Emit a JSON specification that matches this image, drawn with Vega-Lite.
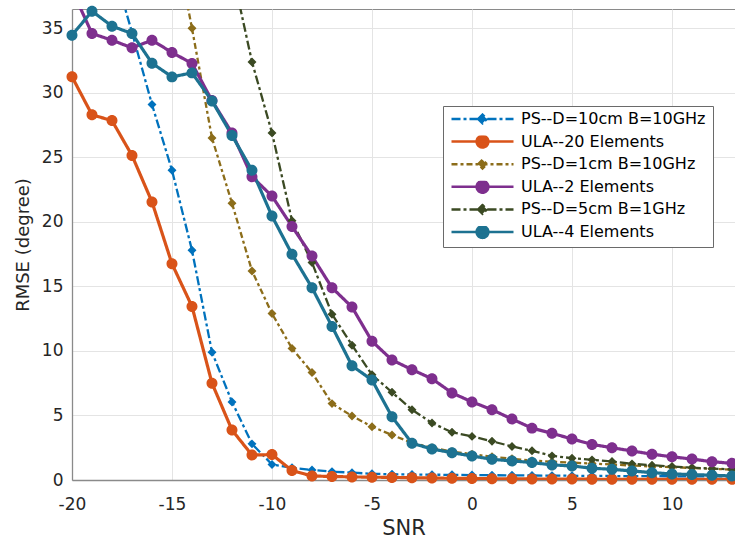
{
"$schema":"https://vega.github.io/schema/vega-lite/v6.json",
"width":663,"height":471,
"autosize":{"type":"none"},
"padding":{"left":72,"top":9,"right":0,"bottom":59},
"background":"white",
"config":{
 "view":{"stroke":"#8a8a8a","strokeWidth":1},
 "font":"DejaVu Sans",
 "axis":{"grid":true,"gridColor":"#e4e4e4","gridWidth":1,"domainColor":"#8a8a8a","domainWidth":1.3,"ticks":false,"labelFont":"DejaVu Sans","labelFontSize":17,"labelColor":"#262626","labelFlush":false,"titleFont":"DejaVu Sans","titleFontWeight":"normal","titleColor":"#262626","labelExpr":"datum.value < 0 ? '-' + abs(datum.value) : '' + datum.value"},
 "legend":{"symbolSize":3844,"clipHeight":12,"rowPadding":6.6,"padding":7,"labelOffset":6,"symbolOffset":0,"labelFont":"DejaVu Sans","labelFontSize":16,"labelColor":"#000000","labelLimit":400,"strokeColor":"#6a6a6a","fillColor":"#ffffff","strokeWidth":1,"symbolOpacity":1,"symbolStrokeWidth":2.5}
},
"data":{"values":[
{"s":"PS--D=10cm B=10GHz","x":-18,"y":40},{"s":"PS--D=10cm B=10GHz","x":-17,"y":34.7},{"s":"PS--D=10cm B=10GHz","x":-16,"y":29.1},{"s":"PS--D=10cm B=10GHz","x":-15,"y":24.0},{"s":"PS--D=10cm B=10GHz","x":-14,"y":17.8},{"s":"PS--D=10cm B=10GHz","x":-13,"y":9.9},{"s":"PS--D=10cm B=10GHz","x":-12,"y":6.05},{"s":"PS--D=10cm B=10GHz","x":-11,"y":2.8},{"s":"PS--D=10cm B=10GHz","x":-10,"y":1.2},{"s":"PS--D=10cm B=10GHz","x":-9,"y":0.95},{"s":"PS--D=10cm B=10GHz","x":-8,"y":0.78},{"s":"PS--D=10cm B=10GHz","x":-7,"y":0.65},{"s":"PS--D=10cm B=10GHz","x":-6,"y":0.57},{"s":"PS--D=10cm B=10GHz","x":-5,"y":0.48},{"s":"PS--D=10cm B=10GHz","x":-4,"y":0.45},{"s":"PS--D=10cm B=10GHz","x":-3,"y":0.43},{"s":"PS--D=10cm B=10GHz","x":-2,"y":0.41},{"s":"PS--D=10cm B=10GHz","x":-1,"y":0.4},{"s":"PS--D=10cm B=10GHz","x":0,"y":0.38},{"s":"PS--D=10cm B=10GHz","x":1,"y":0.37},{"s":"PS--D=10cm B=10GHz","x":2,"y":0.36},{"s":"PS--D=10cm B=10GHz","x":3,"y":0.35},{"s":"PS--D=10cm B=10GHz","x":4,"y":0.34},{"s":"PS--D=10cm B=10GHz","x":5,"y":0.33},{"s":"PS--D=10cm B=10GHz","x":6,"y":0.32},{"s":"PS--D=10cm B=10GHz","x":7,"y":0.31},{"s":"PS--D=10cm B=10GHz","x":8,"y":0.3},{"s":"PS--D=10cm B=10GHz","x":9,"y":0.3},{"s":"PS--D=10cm B=10GHz","x":10,"y":0.29},{"s":"PS--D=10cm B=10GHz","x":11,"y":0.28},{"s":"PS--D=10cm B=10GHz","x":12,"y":0.28},{"s":"PS--D=10cm B=10GHz","x":13,"y":0.27},{"s":"PS--D=10cm B=10GHz","x":14,"y":0.27},
{"s":"ULA--20 Elements","x":-20,"y":31.25},{"s":"ULA--20 Elements","x":-19,"y":28.3},{"s":"ULA--20 Elements","x":-18,"y":27.85},{"s":"ULA--20 Elements","x":-17,"y":25.15},{"s":"ULA--20 Elements","x":-16,"y":21.55},{"s":"ULA--20 Elements","x":-15,"y":16.75},{"s":"ULA--20 Elements","x":-14,"y":13.45},{"s":"ULA--20 Elements","x":-13,"y":7.5},{"s":"ULA--20 Elements","x":-12,"y":3.87},{"s":"ULA--20 Elements","x":-11,"y":1.93},{"s":"ULA--20 Elements","x":-10,"y":1.97},{"s":"ULA--20 Elements","x":-9,"y":0.73},{"s":"ULA--20 Elements","x":-8,"y":0.31},{"s":"ULA--20 Elements","x":-7,"y":0.27},{"s":"ULA--20 Elements","x":-6,"y":0.24},{"s":"ULA--20 Elements","x":-5,"y":0.22},{"s":"ULA--20 Elements","x":-4,"y":0.2},{"s":"ULA--20 Elements","x":-3,"y":0.18},{"s":"ULA--20 Elements","x":-2,"y":0.15},{"s":"ULA--20 Elements","x":-1,"y":0.13},{"s":"ULA--20 Elements","x":0,"y":0.12},{"s":"ULA--20 Elements","x":1,"y":0.1},{"s":"ULA--20 Elements","x":2,"y":0.09},{"s":"ULA--20 Elements","x":3,"y":0.08},{"s":"ULA--20 Elements","x":4,"y":0.07},{"s":"ULA--20 Elements","x":5,"y":0.07},{"s":"ULA--20 Elements","x":6,"y":0.06},{"s":"ULA--20 Elements","x":7,"y":0.06},{"s":"ULA--20 Elements","x":8,"y":0.06},{"s":"ULA--20 Elements","x":9,"y":0.05},{"s":"ULA--20 Elements","x":10,"y":0.05},{"s":"ULA--20 Elements","x":11,"y":0.05},{"s":"ULA--20 Elements","x":12,"y":0.05},{"s":"ULA--20 Elements","x":13,"y":0.05},{"s":"ULA--20 Elements","x":14,"y":0.05},
{"s":"PS--D=1cm B=10GHz","x":-15,"y":43},{"s":"PS--D=1cm B=10GHz","x":-14,"y":35.0},{"s":"PS--D=1cm B=10GHz","x":-13,"y":26.5},{"s":"PS--D=1cm B=10GHz","x":-12,"y":21.45},{"s":"PS--D=1cm B=10GHz","x":-11,"y":16.2},{"s":"PS--D=1cm B=10GHz","x":-10,"y":12.9},{"s":"PS--D=1cm B=10GHz","x":-9,"y":10.2},{"s":"PS--D=1cm B=10GHz","x":-8,"y":8.33},{"s":"PS--D=1cm B=10GHz","x":-7,"y":5.92},{"s":"PS--D=1cm B=10GHz","x":-6,"y":4.96},{"s":"PS--D=1cm B=10GHz","x":-5,"y":4.13},{"s":"PS--D=1cm B=10GHz","x":-4,"y":3.49},{"s":"PS--D=1cm B=10GHz","x":-3,"y":2.88},{"s":"PS--D=1cm B=10GHz","x":-2,"y":2.5},{"s":"PS--D=1cm B=10GHz","x":-1,"y":2.2},{"s":"PS--D=1cm B=10GHz","x":0,"y":2.0},{"s":"PS--D=1cm B=10GHz","x":1,"y":1.8},{"s":"PS--D=1cm B=10GHz","x":2,"y":1.65},{"s":"PS--D=1cm B=10GHz","x":3,"y":1.5},{"s":"PS--D=1cm B=10GHz","x":4,"y":1.42},{"s":"PS--D=1cm B=10GHz","x":5,"y":1.35},{"s":"PS--D=1cm B=10GHz","x":6,"y":1.27},{"s":"PS--D=1cm B=10GHz","x":7,"y":1.2},{"s":"PS--D=1cm B=10GHz","x":8,"y":1.12},{"s":"PS--D=1cm B=10GHz","x":9,"y":1.05},{"s":"PS--D=1cm B=10GHz","x":10,"y":1.0},{"s":"PS--D=1cm B=10GHz","x":11,"y":0.93},{"s":"PS--D=1cm B=10GHz","x":12,"y":0.87},{"s":"PS--D=1cm B=10GHz","x":13,"y":0.8},{"s":"PS--D=1cm B=10GHz","x":14,"y":0.76},
{"s":"ULA--2 Elements","x":-20,"y":38.0},{"s":"ULA--2 Elements","x":-19,"y":34.6},{"s":"ULA--2 Elements","x":-18,"y":34.08},{"s":"ULA--2 Elements","x":-17,"y":33.49},{"s":"ULA--2 Elements","x":-16,"y":34.08},{"s":"ULA--2 Elements","x":-15,"y":33.13},{"s":"ULA--2 Elements","x":-14,"y":32.28},{"s":"ULA--2 Elements","x":-13,"y":29.4},{"s":"ULA--2 Elements","x":-12,"y":26.9},{"s":"ULA--2 Elements","x":-11,"y":23.5},{"s":"ULA--2 Elements","x":-10,"y":22.0},{"s":"ULA--2 Elements","x":-9,"y":19.65},{"s":"ULA--2 Elements","x":-8,"y":17.35},{"s":"ULA--2 Elements","x":-7,"y":14.9},{"s":"ULA--2 Elements","x":-6,"y":13.4},{"s":"ULA--2 Elements","x":-5,"y":10.75},{"s":"ULA--2 Elements","x":-4,"y":9.3},{"s":"ULA--2 Elements","x":-3,"y":8.55},{"s":"ULA--2 Elements","x":-2,"y":7.85},{"s":"ULA--2 Elements","x":-1,"y":6.75},{"s":"ULA--2 Elements","x":0,"y":6.05},{"s":"ULA--2 Elements","x":1,"y":5.45},{"s":"ULA--2 Elements","x":2,"y":4.72},{"s":"ULA--2 Elements","x":3,"y":4.02},{"s":"ULA--2 Elements","x":4,"y":3.62},{"s":"ULA--2 Elements","x":5,"y":3.18},{"s":"ULA--2 Elements","x":6,"y":2.76},{"s":"ULA--2 Elements","x":7,"y":2.5},{"s":"ULA--2 Elements","x":8,"y":2.25},{"s":"ULA--2 Elements","x":9,"y":2.0},{"s":"ULA--2 Elements","x":10,"y":1.8},{"s":"ULA--2 Elements","x":11,"y":1.62},{"s":"ULA--2 Elements","x":12,"y":1.42},{"s":"ULA--2 Elements","x":13,"y":1.29},{"s":"ULA--2 Elements","x":14,"y":1.2},
{"s":"PS--D=5cm B=1GHz","x":-12,"y":39.5},{"s":"PS--D=5cm B=1GHz","x":-11,"y":32.4},{"s":"PS--D=5cm B=1GHz","x":-10,"y":26.9},{"s":"PS--D=5cm B=1GHz","x":-9,"y":20.1},{"s":"PS--D=5cm B=1GHz","x":-8,"y":16.85},{"s":"PS--D=5cm B=1GHz","x":-7,"y":12.85},{"s":"PS--D=5cm B=1GHz","x":-6,"y":10.45},{"s":"PS--D=5cm B=1GHz","x":-5,"y":8.15},{"s":"PS--D=5cm B=1GHz","x":-4,"y":6.8},{"s":"PS--D=5cm B=1GHz","x":-3,"y":5.45},{"s":"PS--D=5cm B=1GHz","x":-2,"y":4.42},{"s":"PS--D=5cm B=1GHz","x":-1,"y":3.7},{"s":"PS--D=5cm B=1GHz","x":0,"y":3.38},{"s":"PS--D=5cm B=1GHz","x":1,"y":3.0},{"s":"PS--D=5cm B=1GHz","x":2,"y":2.6},{"s":"PS--D=5cm B=1GHz","x":3,"y":2.26},{"s":"PS--D=5cm B=1GHz","x":4,"y":1.87},{"s":"PS--D=5cm B=1GHz","x":5,"y":1.69},{"s":"PS--D=5cm B=1GHz","x":6,"y":1.56},{"s":"PS--D=5cm B=1GHz","x":7,"y":1.43},{"s":"PS--D=5cm B=1GHz","x":8,"y":1.25},{"s":"PS--D=5cm B=1GHz","x":9,"y":1.15},{"s":"PS--D=5cm B=1GHz","x":10,"y":1.04},{"s":"PS--D=5cm B=1GHz","x":11,"y":0.96},{"s":"PS--D=5cm B=1GHz","x":12,"y":0.88},{"s":"PS--D=5cm B=1GHz","x":13,"y":0.83},{"s":"PS--D=5cm B=1GHz","x":14,"y":0.8},
{"s":"ULA--4 Elements","x":-20,"y":34.47},{"s":"ULA--4 Elements","x":-19,"y":36.33},{"s":"ULA--4 Elements","x":-18,"y":35.17},{"s":"ULA--4 Elements","x":-17,"y":34.6},{"s":"ULA--4 Elements","x":-16,"y":32.3},{"s":"ULA--4 Elements","x":-15,"y":31.24},{"s":"ULA--4 Elements","x":-14,"y":31.55},{"s":"ULA--4 Elements","x":-13,"y":29.38},{"s":"ULA--4 Elements","x":-12,"y":26.7},{"s":"ULA--4 Elements","x":-11,"y":24.0},{"s":"ULA--4 Elements","x":-10,"y":20.45},{"s":"ULA--4 Elements","x":-9,"y":17.5},{"s":"ULA--4 Elements","x":-8,"y":14.9},{"s":"ULA--4 Elements","x":-7,"y":11.9},{"s":"ULA--4 Elements","x":-6,"y":8.85},{"s":"ULA--4 Elements","x":-5,"y":7.75},{"s":"ULA--4 Elements","x":-4,"y":4.9},{"s":"ULA--4 Elements","x":-3,"y":2.85},{"s":"ULA--4 Elements","x":-2,"y":2.4},{"s":"ULA--4 Elements","x":-1,"y":2.12},{"s":"ULA--4 Elements","x":0,"y":1.86},{"s":"ULA--4 Elements","x":1,"y":1.6},{"s":"ULA--4 Elements","x":2,"y":1.48},{"s":"ULA--4 Elements","x":3,"y":1.35},{"s":"ULA--4 Elements","x":4,"y":1.17},{"s":"ULA--4 Elements","x":5,"y":1.09},{"s":"ULA--4 Elements","x":6,"y":0.91},{"s":"ULA--4 Elements","x":7,"y":0.83},{"s":"ULA--4 Elements","x":8,"y":0.7},{"s":"ULA--4 Elements","x":9,"y":0.57},{"s":"ULA--4 Elements","x":10,"y":0.47},{"s":"ULA--4 Elements","x":11,"y":0.42},{"s":"ULA--4 Elements","x":12,"y":0.37},{"s":"ULA--4 Elements","x":13,"y":0.31},{"s":"ULA--4 Elements","x":14,"y":0.28}
]},
"encoding":{
 "x":{"field":"x","type":"quantitative","scale":{"domain":[-20,13.15],"nice":false,"zero":false},"axis":{"title":"SNR","values":[-20,-15,-10,-5,0,5,10],"labelPadding":16,"titleFontSize":21,"titlePadding":5}},
 "y":{"field":"y","type":"quantitative","scale":{"domain":[0,36.5],"nice":false},"axis":{"title":"RMSE (degree)","values":[0,5,10,15,20,25,30,35],"labelPadding":9,"titleFontSize":18,"titlePadding":9}}
},
"layer":[
 {"transform":[{"filter":"indexof(datum.s,'PS')===0"}],
  "mark":{"type":"line","strokeWidth":2.3,"clip":true},
  "encoding":{
   "color":{"field":"s","type":"nominal","scale":{"domain":["PS--D=10cm B=10GHz","ULA--20 Elements","PS--D=1cm B=10GHz","ULA--2 Elements","PS--D=5cm B=1GHz","ULA--4 Elements"],"range":["#0072BD","#D95319","#8C6D1A","#7E2F8E","#3B4A23","#1D7291"]},"legend":{"title":null,"orient":"none","legendX":371,"legendY":97}},
   "strokeDash":{"field":"s","type":"nominal","scale":{"domain":["PS--D=10cm B=10GHz","ULA--20 Elements","PS--D=1cm B=10GHz","ULA--2 Elements","PS--D=5cm B=1GHz","ULA--4 Elements"],"range":[[9,3,3,3],[1,0],[6,3,3,3],[1,0],[9,3,3,3],[1,0]]},"legend":{"title":null,"orient":"none","legendX":371,"legendY":97}}
  }},
 {"transform":[{"filter":"indexof(datum.s,'ULA')===0"}],
  "mark":{"type":"line","strokeWidth":3.2,"clip":true},
  "encoding":{
   "color":{"field":"s","type":"nominal","scale":{"domain":["PS--D=10cm B=10GHz","ULA--20 Elements","PS--D=1cm B=10GHz","ULA--2 Elements","PS--D=5cm B=1GHz","ULA--4 Elements"],"range":["#0072BD","#D95319","#8C6D1A","#7E2F8E","#3B4A23","#1D7291"]},"legend":{"title":null,"orient":"none","legendX":371,"legendY":97}},
   "strokeDash":{"field":"s","type":"nominal","scale":{"domain":["PS--D=10cm B=10GHz","ULA--20 Elements","PS--D=1cm B=10GHz","ULA--2 Elements","PS--D=5cm B=1GHz","ULA--4 Elements"],"range":[[9,3,3,3],[1,0],[6,3,3,3],[1,0],[9,3,3,3],[1,0]]},"legend":{"title":null,"orient":"none","legendX":371,"legendY":97}}
  }},
 {"transform":[{"filter":"indexof(datum.s,'PS')===0 && datum.y <= 36.5"}],
  "mark":{"type":"point","filled":true,"size":4100,"opacity":1},
  "encoding":{
   "fill":{"field":"s","type":"nominal","scale":{"domain":["PS--D=10cm B=10GHz","ULA--20 Elements","PS--D=1cm B=10GHz","ULA--2 Elements","PS--D=5cm B=1GHz","ULA--4 Elements"],"range":["#0072BD","#D95319","#8C6D1A","#7E2F8E","#3B4A23","#1D7291"]},"legend":{"title":null,"orient":"none","legendX":371,"legendY":97}},
   "shape":{"field":"s","type":"nominal","scale":{"domain":["PS--D=10cm B=10GHz","ULA--20 Elements","PS--D=1cm B=10GHz","ULA--2 Elements","PS--D=5cm B=1GHz","ULA--4 Elements"],"range":["M-1,0H1M-0.14,0L0,-0.14L0.14,0L0,0.14Z","M-1,0H1M-0.19,0A0.19,0.19,0,1,1,0.19,0A0.19,0.19,0,1,1,-0.19,0Z","M-1,0H1M-0.14,0L0,-0.14L0.14,0L0,0.14Z","M-1,0H1M-0.19,0A0.19,0.19,0,1,1,0.19,0A0.19,0.19,0,1,1,-0.19,0Z","M-1,0H1M-0.14,0L0,-0.14L0.14,0L0,0.14Z","M-1,0H1M-0.19,0A0.19,0.19,0,1,1,0.19,0A0.19,0.19,0,1,1,-0.19,0Z"]},"legend":{"title":null,"orient":"none","legendX":371,"legendY":97}}
  }},
 {"transform":[{"filter":"indexof(datum.s,'ULA')===0 && datum.y <= 36.5"}],
  "mark":{"type":"point","filled":true,"size":3350,"opacity":1},
  "encoding":{
   "fill":{"field":"s","type":"nominal","scale":{"domain":["PS--D=10cm B=10GHz","ULA--20 Elements","PS--D=1cm B=10GHz","ULA--2 Elements","PS--D=5cm B=1GHz","ULA--4 Elements"],"range":["#0072BD","#D95319","#8C6D1A","#7E2F8E","#3B4A23","#1D7291"]},"legend":{"title":null,"orient":"none","legendX":371,"legendY":97}},
   "shape":{"field":"s","type":"nominal","scale":{"domain":["PS--D=10cm B=10GHz","ULA--20 Elements","PS--D=1cm B=10GHz","ULA--2 Elements","PS--D=5cm B=1GHz","ULA--4 Elements"],"range":["M-1,0H1M-0.14,0L0,-0.14L0.14,0L0,0.14Z","M-1,0H1M-0.19,0A0.19,0.19,0,1,1,0.19,0A0.19,0.19,0,1,1,-0.19,0Z","M-1,0H1M-0.14,0L0,-0.14L0.14,0L0,0.14Z","M-1,0H1M-0.19,0A0.19,0.19,0,1,1,0.19,0A0.19,0.19,0,1,1,-0.19,0Z","M-1,0H1M-0.14,0L0,-0.14L0.14,0L0,0.14Z","M-1,0H1M-0.19,0A0.19,0.19,0,1,1,0.19,0A0.19,0.19,0,1,1,-0.19,0Z"]},"legend":{"title":null,"orient":"none","legendX":371,"legendY":97}}
  }}
]
}
